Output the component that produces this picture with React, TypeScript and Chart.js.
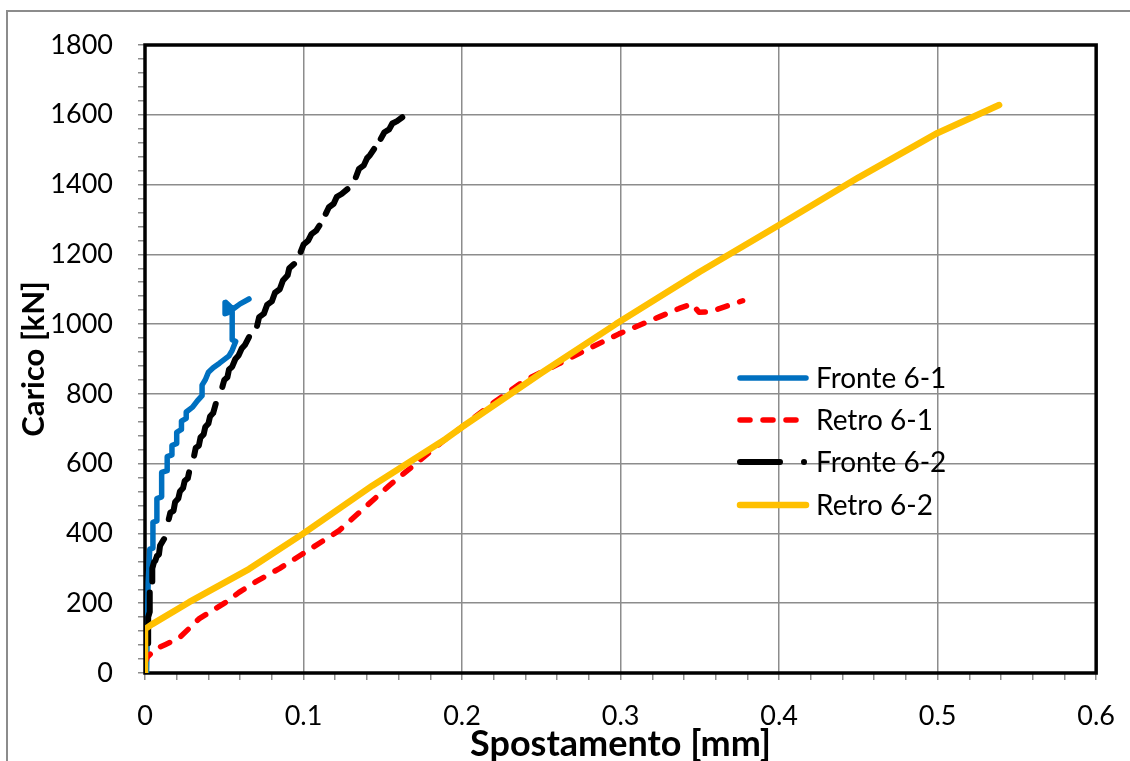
import React, { useEffect, useRef } from 'react';
import { Chart, registerables } from 'chart.js';

Chart.register(...registerables);

type Row = [number, number] | null;

const seriesNames = ['Fronte 6-1', 'Retro 6-1', 'Fronte 6-2', 'Retro 6-2'];

const fronte61: Row[] = [
  [0.001, 0], [0.002, 260], [0.003, 355], [0.005, 358], [0.005, 432], [0.0075, 436],
  [0.0075, 500], [0.0105, 505], [0.0105, 575], [0.014, 580], [0.014, 620], [0.017, 625],
  [0.017, 652], [0.02, 658], [0.02, 690], [0.023, 698], [0.023, 722], [0.026, 730],
  [0.026, 748], [0.03, 762], [0.033, 780], [0.036, 795], [0.036, 825], [0.038, 840],
  [0.04, 862], [0.043, 875], [0.047, 888], [0.053, 909], [0.055, 925], [0.0572, 950],
  [0.055, 955], [0.055, 1045], [0.051, 1062], [0.0505, 1030], [0.052, 1032], [0.053, 1050],
  [0.056, 1045], [0.06, 1058], [0.0656, 1072],
];

const retro61: Row[] = [
  [0, 30], [0.0015, 46], [0.0067, 69], [0.013, 82], [0.0215, 100], [0.034, 155],
  [0.051, 203], [0.0593, 231], [0.07, 262], [0.085, 300], [0.0993, 341], [0.1224, 408],
  [0.154, 537], [0.1897, 671], [0.2, 705], [0.22, 775], [0.24, 840], [0.261, 886],
  [0.28, 930], [0.299, 972], [0.324, 1020], [0.337, 1045], [0.345, 1058], [0.3495, 1034],
  [0.356, 1035], [0.366, 1050], [0.377, 1067],
];

const fronte62: Row[] = [
  [0.002, 85], [0.002, 160], [0.003, 175], [0.003, 231], null,
  [0.0046, 262], [0.0046, 300], [0.0057, 318], [0.0065, 322], [0.0075, 335], [0.0088, 340], [0.0095, 365], [0.012, 384], null,
  [0.015, 441], [0.016, 460], [0.018, 465], [0.019, 490], [0.021, 500], [0.022, 520], [0.024, 530], [0.025, 550], [0.027, 558], [0.0278, 575], null,
  [0.031, 623], [0.032, 645], [0.034, 652], [0.035, 675], [0.037, 684], [0.038, 705], [0.04, 715], [0.041, 735], [0.043, 745], [0.0446, 771], null,
  [0.0488, 820], [0.05, 840], [0.052, 848], [0.053, 870], [0.055, 878], [0.057, 900], [0.059, 910], [0.061, 930], [0.063, 940], [0.0656, 963], null,
  [0.0707, 995], [0.072, 1020], [0.075, 1030], [0.077, 1055], [0.08, 1065], [0.082, 1090], [0.085, 1100], [0.087, 1125], [0.09, 1140], [0.091, 1160], [0.094, 1172], null,
  [0.0982, 1207], [0.1, 1228], [0.103, 1240], [0.105, 1258], [0.108, 1268], [0.11, 1282], null,
  [0.114, 1316], [0.116, 1335], [0.119, 1345], [0.121, 1365], [0.124, 1373], [0.1277, 1387], null,
  [0.133, 1421], [0.135, 1445], [0.138, 1455], [0.14, 1475], [0.142, 1485], [0.1445, 1502], null,
  [0.1487, 1531], [0.151, 1550], [0.154, 1558], [0.156, 1575], [0.159, 1582], [0.1623, 1593],
];

const retro62: Row[] = [
  [0, 0], [0, 126], [0.0046, 140], [0.0278, 203], [0.0656, 298], [0.0993, 398],
  [0.1434, 537], [0.1897, 671], [0.2, 705], [0.25, 860], [0.297, 1000], [0.35, 1150],
  [0.4, 1284], [0.45, 1420], [0.5, 1548], [0.5388, 1628],
];

const xTickLabels = ['0', '0.1', '0.2', '0.3', '0.4', '0.5', '0.6'];
const yTickLabels = ['0', '200', '400', '600', '800', '1000', '1200', '1400', '1600', '1800'];
const xTitle = 'Spostamento [mm]';
const yTitle = 'Carico [kN]';

const FONT = 'Lato, "Open Sans", sans-serif';
const GRID = '#8c8c8c';

const toPoints = (rows: Row[]) =>
  rows.map((r) => (r ? { x: r[0], y: r[1] } : { x: NaN, y: NaN }));

const styles = [
  { color: '#0070C0', width: 5.5, dash: [] as number[], legendDash: [] as number[], order: 4 },
  { color: '#FF0000', width: 5.5, dash: [10, 13], legendDash: [10, 13], order: 3 },
  { color: '#000000', width: 6, dash: [] as number[], legendDash: [40, 24, 0.01, 100], order: 2 },
  { color: '#FFC000', width: 6.5, dash: [] as number[], legendDash: [] as number[], order: 1 },
];

const frameLegendPlugin = {
  id: 'frameLegend',
  beforeDatasetsDraw(chart: any) {
    const { ctx, chartArea: a } = chart;
    ctx.save();
    ctx.strokeStyle = '#000';
    ctx.lineWidth = 3.5;
    ctx.strokeRect(a.left, a.top, a.right - a.left, a.bottom - a.top);
    ctx.restore();
  },
  afterDatasetsDraw(chart: any) {
    const { ctx } = chart;
    ctx.save();
    const rowsY = [378, 420, 462, 505];
    chart.data.datasets.forEach((ds: any, i: number) => {
      const st = styles[i];
      const y = rowsY[i];
      ctx.beginPath();
      ctx.strokeStyle = st.color;
      ctx.lineWidth = st.width;
      ctx.lineCap = 'round';
      ctx.setLineDash(st.legendDash);
      ctx.moveTo(740, y);
      ctx.lineTo(i === 1 ? 798 : 806, y);
      ctx.stroke();
      ctx.setLineDash([]);
      ctx.fillStyle = '#000';
      ctx.font = `28px ${FONT}`;
      ctx.textBaseline = 'middle';
      ctx.textAlign = 'left';
      ctx.fillText(ds.label, 816, y + 1);
    });
    ctx.restore();
  },
};

export default function App() {
  const ref = useRef<HTMLCanvasElement | null>(null);
  useEffect(() => {
    if (!ref.current) return;
    const all = [fronte61, retro61, fronte62, retro62];
    const chart = new Chart(ref.current, {
      type: 'scatter',
      data: {
        datasets: all.map((rows, i) => ({
          label: seriesNames[i],
          data: toPoints(rows),
          showLine: true,
          spanGaps: false,
          borderColor: styles[i].color,
          backgroundColor: styles[i].color,
          borderWidth: styles[i].width,
          borderDash: styles[i].dash,
          borderCapStyle: 'round',
          borderJoinStyle: 'round',
          pointRadius: 0,
          pointHoverRadius: 0,
          tension: 0,
          order: styles[i].order,
        })),
      },
      options: {
        responsive: false,
        animation: false,
        events: [],
        layout: { padding: { top: 45, right: 30, left: 0, bottom: 0 } },
        plugins: { legend: { display: false }, tooltip: { enabled: false } },
        scales: {
          x: {
            type: 'linear',
            min: 0,
            max: 0.6,
            afterFit: (s: any) => { s.height = 88; },
            border: { display: false },
            grid: {
              color: (c: any) => (c.index % 5 === 0 ? GRID : 'rgba(0,0,0,0)'),
              tickColor: GRID,
              lineWidth: 1.5,
              tickLength: 7,
            },
            ticks: {
              stepSize: 0.02,
              autoSkip: false,
              maxRotation: 0,
              padding: 20,
              color: '#000',
              font: { family: FONT, size: 27 },
              callback: (_v: any, i: number) => (i % 5 === 0 ? xTickLabels[i / 5] : ''),
            },
            title: {
              display: true,
              text: xTitle,
              color: '#000',
              font: { family: FONT, size: 36, weight: 'bold', lineHeight: 1 },
              padding: { top: 0, bottom: -1 },
            },
          },
          y: {
            type: 'linear',
            min: 0,
            max: 1800,
            afterFit: (s: any) => { s.width = 145; },
            border: { display: false },
            grid: {
              color: (c: any) => (c.index % 5 === 0 ? GRID : 'rgba(0,0,0,0)'),
              tickColor: GRID,
              lineWidth: 1.5,
              tickLength: 7,
            },
            ticks: {
              stepSize: 40,
              autoSkip: false,
              padding: 25,
              color: '#000',
              font: { family: FONT, size: 27 },
              callback: (_v: any, i: number) => (i % 5 === 0 ? yTickLabels[i / 5] : ''),
            },
            title: {
              display: true,
              text: yTitle,
              color: '#000',
              font: { family: FONT, size: 31, weight: 'bold' },
              padding: { top: 15, bottom: 0 },
            },
          },
        },
      },
      plugins: [frameLegendPlugin],
    } as any);
    return () => chart.destroy();
  }, []);

  return (
    <div style={{ position: 'fixed', left: 0, top: 0, width: 1130, height: 761, background: '#fff', overflow: 'hidden' }}>
      <div
        style={{
          position: 'absolute',
          left: 6,
          top: 10,
          width: 1300,
          height: 900,
          border: '2px solid #8c8c8c',
        }}
      />
      <canvas ref={ref} width={1135} height={761} style={{ position: 'absolute', left: 0, top: 0 }} />
    </div>
  );
}
